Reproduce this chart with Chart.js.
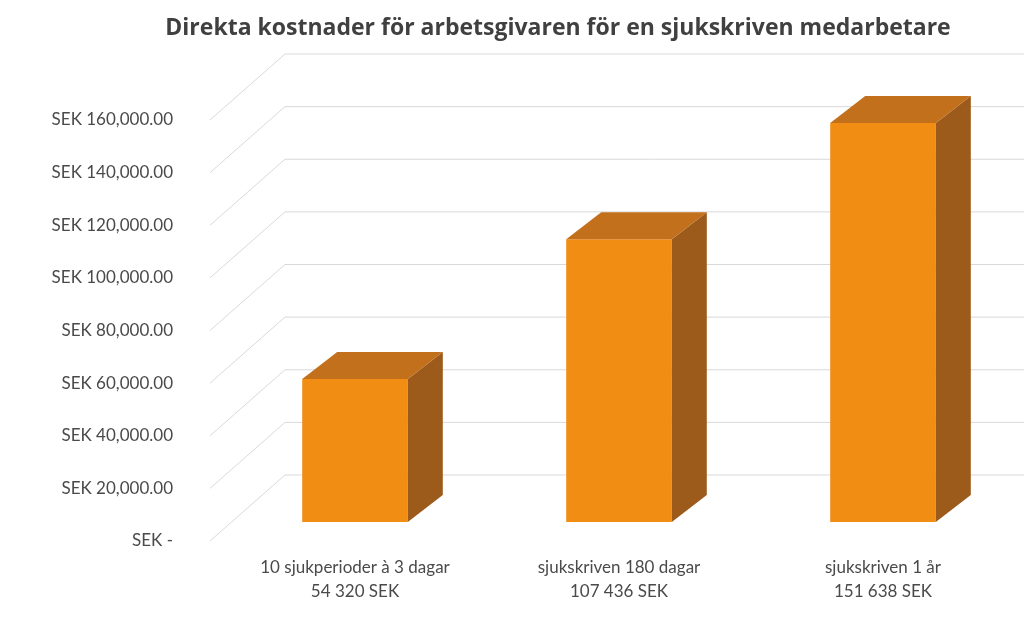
<!DOCTYPE html>
<html><head><meta charset="utf-8">
<script src="https://cdn.jsdelivr.net/npm/chart.js@4/dist/chart.umd.min.js"></script>
<style>html,body{margin:0;padding:0;background:#fff}#wrap{width:1024px;height:617px}</style>
</head><body><div id="wrap"><canvas id="c" width="1024" height="617"></canvas></div>
<script>
const title = "Direkta kostnader för arbetsgivaren för en sjukskriven medarbetare";
const categories = [["10 sjukperioder à 3 dagar","54 320 SEK"],["sjukskriven 180 dagar","107 436 SEK"],["sjukskriven 1 år","151 638 SEK"]];
const values = [54320, 107436, 151638];
const tickValues = [0,20000,40000,60000,80000,100000,120000,140000,160000];
const tickLabels = ["SEK -","SEK 20,000.00","SEK 40,000.00","SEK 60,000.00","SEK 80,000.00","SEK 100,000.00","SEK 120,000.00","SEK 140,000.00","SEK 160,000.00"];

const DX = 35, DY = -27;
const deco = {
  id:'deco',
  beforeDatasetsDraw(chart){
    const ctx = chart.ctx, y = chart.scales.y;
    ctx.save();
    ctx.strokeStyle = '#d9d9d9'; ctx.lineWidth = 1;
    tickValues.forEach((v,i)=>{
      const py = y.getPixelForValue(v);
      ctx.beginPath();
      ctx.moveTo(210, py+19); ctx.lineTo(285, py-47); ctx.lineTo(1024, py-47);
      ctx.stroke();
      ctx.fillStyle = '#4a4a4a'; ctx.font = '17px Lato, "Open Sans", sans-serif';
      ctx.textAlign = 'right'; ctx.textBaseline = 'middle';
      ctx.fillText(tickLabels[i], 173, py+19);
    });
    ctx.fillStyle = '#404040'; ctx.font = 'bold 23px "Open Sans", Lato, sans-serif';
    ctx.textAlign = 'center'; ctx.textBaseline = 'middle';
    ctx.fillText(title, 558, 28);
    const meta = chart.getDatasetMeta(0);
    ctx.fillStyle = '#4a4a4a'; ctx.font = '17px Lato, "Open Sans", sans-serif';
    meta.data.forEach((b,i)=>{
      ctx.fillText(categories[i][0], b.x, 568);
      ctx.fillText(categories[i][1], b.x, 592);
    });
    ctx.restore();
  },
  afterDatasetsDraw(chart){
    const ctx = chart.ctx, meta = chart.getDatasetMeta(0);
    ctx.save();
    meta.data.forEach(b=>{
      const l = b.x - b.width/2, r = b.x + b.width/2, t = b.y, bo = b.base;
      ctx.fillStyle = '#9c5b1b';
      ctx.beginPath(); ctx.moveTo(r,t); ctx.lineTo(r+DX,t+DY); ctx.lineTo(r+DX,bo+DY); ctx.lineTo(r,bo); ctx.closePath(); ctx.fill();
      ctx.fillStyle = '#c2701c';
      ctx.beginPath(); ctx.moveTo(l,t); ctx.lineTo(l+DX,t+DY); ctx.lineTo(r+DX,t+DY); ctx.lineTo(r,t); ctx.closePath(); ctx.fill();
    });
    ctx.restore();
  }
};
new Chart(document.getElementById('c'), {
  type:'bar',
  data:{labels:categories.map(c=>c[0]), datasets:[{data:values, backgroundColor:'#f28d14', barPercentage:0.4, categoryPercentage:1}]},
  options:{responsive:false, animation:false, events:[],
    layout:{padding:{left:223,right:9,top:101,bottom:95}},
    plugins:{legend:{display:false},tooltip:{enabled:false}},
    scales:{x:{display:false},y:{display:false,min:0,max:160000}}},
  plugins:[deco]
});
</script></body></html>
